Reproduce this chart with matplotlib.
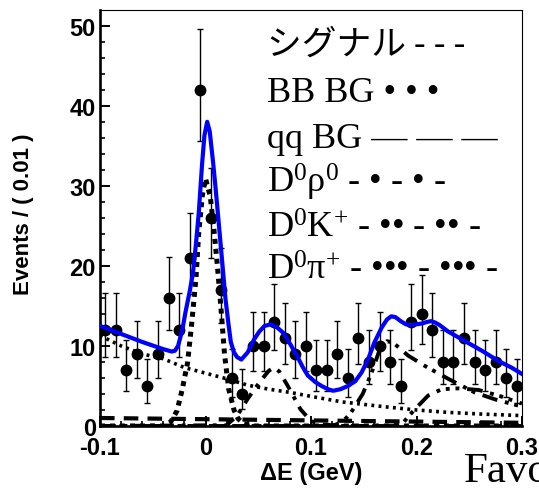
import math
import numpy as np
import matplotlib
matplotlib.use("Agg")
from matplotlib import pyplot as plt

# Data points (bin centres, 0.01 GeV bins)
de = np.round(np.arange(-0.095, 0.30, 0.01), 3)
events = [12, 12, 7, 9, 5, 9, 16, 12, 21, 42,
          26, 17, 6, 4, 10, 10, 13, 11, 9, 10,
          7, 7, 9, 6, 11, 8, 10, 8, 5, 13,
          14, 12, 8, 8, 11, 8, 7, 8, 6, 5]

# Fit curves
total_x = [-0.100, -0.080, -0.060, -0.040, -0.032, -0.029, -0.026, -0.022, -0.019,
           -0.015, -0.012, -0.009, -0.0064, -0.0032, -0.001, 0.0016, 0.004, 0.0073,
           0.0095, 0.0117, 0.0159, 0.019, 0.022, 0.024, 0.027, 0.030, 0.034,
           0.040, 0.046, 0.051, 0.056, 0.062, 0.068, 0.074, 0.080, 0.087, 0.092,
           0.097, 0.104, 0.110, 0.116, 0.121, 0.128, 0.135, 0.142, 0.148, 0.154,
           0.160, 0.167, 0.172, 0.176, 0.180, 0.185, 0.190, 0.195, 0.200, 0.205,
           0.210, 0.214, 0.218, 0.222, 0.230, 0.246, 0.262, 0.278, 0.290, 0.300]
total_y = [12.5, 11.5, 10.5, 9.6, 9.3, 9.4, 10.0, 12.0, 14.2,
           16.8, 19.0, 22.8, 26.6, 32.8, 36.3, 38.0, 36.8, 32.8,
           29.8, 26.6, 20.4, 15.8, 12.5, 10.5, 9.2, 8.6, 8.3,
           9.2, 10.8, 11.8, 12.5, 12.7, 12.3, 11.6, 10.3, 8.7, 7.4,
           6.3, 5.5, 5.0, 4.6, 4.4, 4.6, 5.0, 5.6, 6.7, 8.3,
           10.4, 12.3, 13.3, 13.7, 13.6, 13.1, 12.7, 12.6, 12.7, 12.8,
           13.0, 13.1, 12.9, 12.6, 11.8, 10.6, 9.4, 8.1, 7.3, 6.5]

sig_x = [-0.100, -0.040, -0.033, -0.027, -0.022, -0.017, -0.013, -0.009, -0.0065,
         -0.003, 0.0, 0.0045, 0.008, 0.011, 0.0145, 0.018, 0.022, 0.027, 0.031,
         0.036, 0.045, 0.300]
sig_y = [0.0, 0.0, 0.5, 1.9, 4.6, 7.9, 12.9, 18.5, 24.0,
         28.8, 30.9, 28.7, 24.5, 20.4, 15.0, 9.0, 4.6, 2.0, 0.9,
         0.3, 0.0, 0.0]

bb_x = [-0.100, -0.080, -0.060, -0.040, -0.020, 0.000, 0.020, 0.040, 0.060,
        0.080, 0.100, 0.130, 0.150, 0.170, 0.200, 0.230, 0.260, 0.300]
bb_y = [11.3, 10.0, 9.0, 8.4, 7.3, 6.6, 5.9, 5.1, 4.6,
        4.2, 3.7, 3.0, 2.7, 2.4, 2.0, 1.7, 1.5, 1.3]

qq_x = [-0.100, 0.300]
qq_y = [1.0, 0.4]

rho_x = [-0.100, 0.020, 0.030, 0.040, 0.052, 0.060, 0.065, 0.070, 0.078,
         0.090, 0.100, 0.110, 0.130, 0.300]
rho_y = [0.0, 0.1, 1.3, 3.4, 5.6, 6.9, 7.3, 6.8, 5.0,
         2.1, 0.6, 0.2, 0.0, 0.0]

dk_x = [-0.100, 0.120, 0.130, 0.138, 0.149, 0.157, 0.165, 0.172, 0.178,
        0.192, 0.208, 0.230, 0.255, 0.275, 0.295, 0.300]
dk_y = [0.0, 0.0, 0.5, 1.7, 4.0, 6.5, 9.5, 10.6, 10.4,
        8.8, 7.5, 5.9, 4.2, 3.3, 2.6, 2.5]

dpi_x = [-0.100, 0.180, 0.188, 0.193, 0.200, 0.211, 0.224, 0.240, 0.259,
         0.280, 0.300]
dpi_y = [0.0, 0.0, 0.5, 1.3, 2.3, 3.8, 4.6, 4.7, 4.5,
         3.7, 2.8]

legend_lines = ["シグナル - - -",
                "BB BG • • •",
                "qq BG — — —",
                "D$^{0}$ρ$^{0}$ - • - • -",
                "D$^{0}$K$^{+}$ - •• - •• -",
                "D$^{0}$π$^{+}$ - ••• - ••• -"]


def poisson_cdf(n, lam):
    return sum(math.exp(-lam + k * math.log(lam) - math.lgamma(k + 1)) for k in range(n + 1))


def poisson_interval(n, alpha=0.158655):
    # lower edge
    if n == 0:
        lo = 0.0
    else:
        a, b = 1e-9, float(n)
        for _ in range(60):
            m = 0.5 * (a + b)
            if 1 - poisson_cdf(n - 1, m) < alpha:
                a = m
            else:
                b = m
        lo = 0.5 * (a + b)
    a, b = float(n), n + 10 * math.sqrt(n + 1) + 10
    for _ in range(60):
        m = 0.5 * (a + b)
        if poisson_cdf(n, m) > alpha:
            a = m
        else:
            b = m
    hi = 0.5 * (a + b)
    return n - lo, hi - n


errs = np.array([poisson_interval(n) for n in events]).T

plt.rcParams['mathtext.fontset'] = 'custom'
plt.rcParams['mathtext.rm'] = 'Liberation Serif'
plt.rcParams['mathtext.it'] = 'Liberation Serif:italic'

fig = plt.figure(figsize=(5.39, 4.89), dpi=100)
ax = fig.add_axes([100 / 539, 62 / 489, 422 / 539, 416.3 / 489])

ax.plot(qq_x, qq_y, color='black', lw=3.0, ls=(0, (3.5, 2.2)))
ax.plot(bb_x, bb_y, color='black', lw=2.6, ls=(0, (0.8, 1.2)))
ax.plot(rho_x, rho_y, color='black', lw=2.8, ls=(0, (3, 2, 1, 2)))
ax.plot(dk_x, dk_y, color='black', lw=2.8, ls=(0, (4, 2, 1, 1.5, 1, 2)))
ax.plot(dpi_x, dpi_y, color='black', lw=2.8, ls=(0, (4, 2, 1, 1.5, 1, 1.5, 1, 2)))
ax.plot(sig_x, sig_y, color='black', lw=3.6, ls=(0, (1, 1)))

ax.errorbar(de, events, yerr=errs, fmt='o', color='black', ms=7.5,
            elinewidth=1.0, capsize=2.2, capthick=1.0, zorder=4)
ax.plot(total_x, total_y, color='#0000ff', lw=3.0, zorder=5)

ax.set_xlim(-0.1, 0.3)
ax.set_ylim(0, 52)
ax.set_xticks([-0.1, 0, 0.1, 0.2, 0.3])
ax.set_xticklabels(['-0.1', '0', '0.1', '0.2', '0.3'])
ax.set_xticks(np.arange(-0.1, 0.301, 0.02), minor=True)
ax.set_yticks([0, 10, 20, 30, 40, 50])
ax.set_yticks(np.arange(0, 52, 2), minor=True)
ax.tick_params(axis='both', which='both', direction='in', top=False, right=False)
ax.tick_params(axis='both', which='major', length=7, width=1.4)
ax.tick_params(axis='both', which='minor', length=3.5, width=1.2)
ax.tick_params(axis='x', which='major', pad=7)
ax.tick_params(axis='y', which='major', pad=3)
for lab in ax.get_xticklabels() + ax.get_yticklabels():
    lab.set_fontfamily('Liberation Sans')
    lab.set_fontweight('bold')
    lab.set_fontsize(17)

ax.spines['left'].set_linewidth(1.9)
ax.spines['bottom'].set_linewidth(1.9)
ax.spines['top'].set_linewidth(0.8)
ax.spines['right'].set_linewidth(0.8)

ax.set_xlabel('ΔE (GeV)', fontfamily='Liberation Sans', fontweight='bold', fontsize=17)
ax.xaxis.set_label_coords(0.5, -0.084)
ax.set_ylabel('Events / ( 0.01 )', fontfamily='Liberation Sans', fontweight='bold', fontsize=16)
ax.yaxis.set_label_coords(-0.157, 0.51)

baselines = [55, 102, 148, 193, 238, 280]
for i, (txt, yb) in enumerate(zip(legend_lines, baselines)):
    fam = ['Noto Sans CJK JP', 'Liberation Serif'] if i == 0 else ['Liberation Serif']
    fig.text(267 / 539, 1 - yb / 489, txt, fontsize=26 if i else 25,
             family=fam, va='baseline', ha='left')

fig.text(464 / 539, 1 - 482 / 489, 'Favored', fontsize=31,
         family='Liberation Serif', va='baseline', ha='left')

fig.savefig('out.png', dpi=100)
